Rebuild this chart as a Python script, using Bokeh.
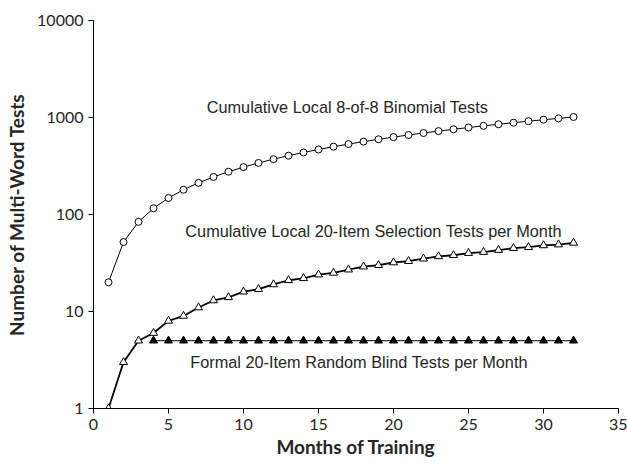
from bokeh.plotting import figure
from bokeh.models import Range1d, FixedTicker, NumeralTickFormatter, Label
from bokeh.embed import file_html
from bokeh.resources import INLINE

months = list(range(1, 33))
binomial = [20, 52, 84, 116, 148, 180, 212, 244, 276, 308, 340, 372, 404, 436, 468, 500,
            532, 564, 596, 628, 660, 692, 724, 756, 788, 820, 852, 884, 916, 948, 980, 1012]
selection = [1, 3, 5, 6, 8, 9, 11, 13, 14, 16, 17, 19, 21, 22, 24, 25,
             27, 29, 30, 32, 33, 35, 37, 38, 40, 41, 43, 45, 46, 48, 49, 51]
formal_months = list(range(4, 33))
formal = [5] * len(formal_months)

label_texts = ["Cumulative Local 8-of-8 Binomial Tests",
               "Cumulative Local 20-Item Selection Tests per Month",
               "Formal 20-Item Random Blind Tests per Month"]
label_x = [16.93, 18.67, 17.7]
label_y = [1268, 66.8, 3.05]

x_ticks = [0, 5, 10, 15, 20, 25, 30, 35]
y_ticks = [1, 10, 100, 1000, 10000]

p = figure(width=627, height=467, y_axis_type="log", output_backend="svg",
           toolbar_location=None, x_range=Range1d(0, 35), y_range=Range1d(1, 10000),
           min_border_left=93, min_border_right=9, min_border_top=20, min_border_bottom=59)
p.outline_line_color = None
p.grid.visible = False

p.line(months, binomial, line_color="black", line_width=1)
p.scatter(months, binomial, marker="circle", size=7, fill_color="white", line_color="black", line_width=1)

p.line(months, selection, line_color="black", line_width=1.8)
p.scatter(months, selection, marker="triangle", size=8, fill_color="white", line_color="black", line_width=1)

p.line(formal_months, formal, line_color="black", line_width=1)
p.scatter(formal_months, formal, marker="triangle", size=8, fill_color="black", line_color="black", line_width=1)

for t, x, y in zip(label_texts, label_x, label_y):
    p.add_layout(Label(x=x, y=y, text=t, text_align="center", text_baseline="middle",
                       text_font="Liberation Sans", text_font_size="16.3px", text_color="#262626"))

p.xaxis.ticker = FixedTicker(ticks=x_ticks)
p.yaxis.ticker = FixedTicker(ticks=y_ticks)
p.yaxis.formatter = NumeralTickFormatter(format="0")
for ax in (p.xaxis, p.yaxis):
    ax.minor_tick_line_color = None
    ax.major_tick_in = 0
    ax.major_tick_out = 5
    ax.axis_line_color = "black"
    ax.major_tick_line_color = "black"
    ax.major_label_text_font = "Lato"
    ax.major_label_text_font_size = "16px"
    ax.major_label_text_color = "#262626"
    ax.major_label_standoff = 5
    ax.axis_label_text_font = "Lato"
    ax.axis_label_text_font_style = "bold"
    ax.axis_label_text_font_size = "19px"
    ax.axis_label_text_color = "#262626"
p.xaxis.axis_label = "Months of Training"
p.yaxis.axis_label = "Number of Multi-Word Tests"
p.xaxis.axis_label_standoff = 2
p.yaxis.axis_label_standoff = 6

open("out.html", "w").write(file_html(p, INLINE))
